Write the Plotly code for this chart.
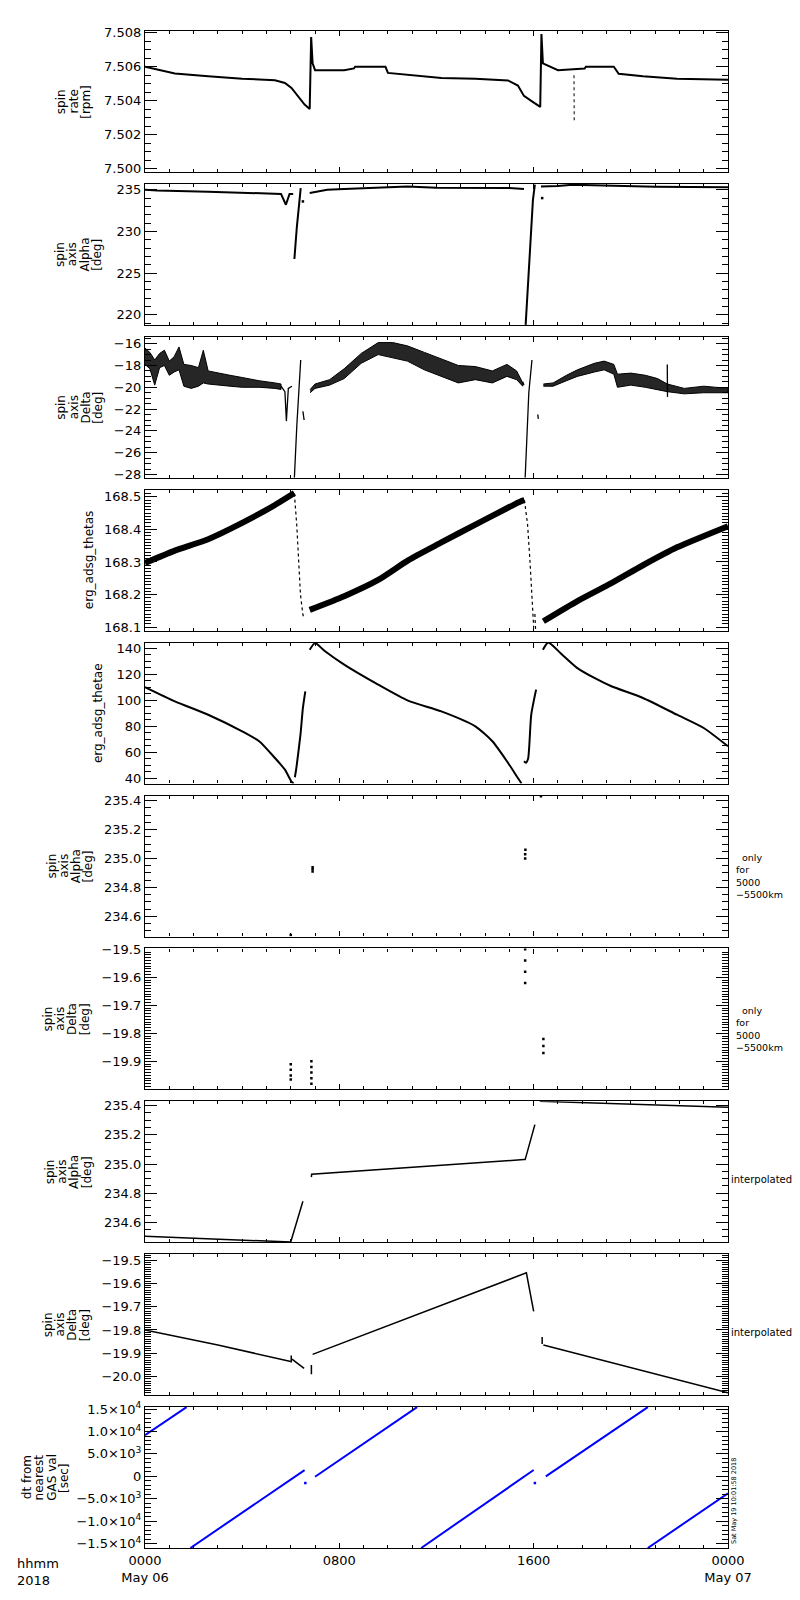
import plotly.graph_objects as go
from plotly.subplots import make_subplots

# time axis is hours since 2018-05-06 00:00 UT

# panel 1: spin rate [rpm]
rate_hr = [0, 0.3, 0.54, 1.23, 2.6, 4.0, 5.35, 5.76, 6.03, 6.3, 6.57, 6.78, 6.84, 6.9, 7.0, 8.2, 8.6, 8.65, 9.9, 10.0,
           10.83, 12.2, 13.6, 14.94, 15.35, 15.6, 15.9, 16.27, 16.32, 16.38, 17.0, 18.1, 18.15, 19.3, 19.5, 20.5, 21.9, 24.0]
rate_val = [7.5060, 7.5059, 7.5058, 7.5056, 7.50544, 7.5053, 7.50521, 7.50505, 7.50476, 7.50427, 7.50378, 7.50352,
            7.50775, 7.5062, 7.5058, 7.5058, 7.5059, 7.5060, 7.5060, 7.50564,
            7.50554, 7.50534, 7.5053, 7.5052, 7.5049, 7.50429, 7.5040, 7.50364, 7.50792, 7.5062, 7.5058, 7.5059,
            7.5060, 7.5060, 7.50559, 7.50544, 7.5053, 7.50524]
rate_drop_hr = [17.66, 17.67]
rate_drop_val = [7.5055, 7.5027]

# panel 2: spin axis alpha [deg]
alpha_hr = [0, 0.5, 2.6, 4.5, 5.35, 5.6, 5.8, 5.95, 6.1, None, 6.15, 6.25, 6.41, None, 6.78, 7.5, 8.2, 9.6, 10.8,
            12.0, 15.0, 15.6, None, 15.67, 15.85, 15.97, 16.05, None, 16.3, 17.0, 17.6, 19.3, 21.0, 24.0]
alpha_val = [235.0, 234.9, 234.76, 234.65, 234.56, 234.5, 233.2, 234.5, 234.5, None, 226.7, 230.5, 235.2, None,
             234.6, 235.0, 235.1, 235.3, 235.4, 235.25, 235.2, 235.1, None, 218.8, 228.0, 233.8, 235.6, None,
             235.4, 235.45, 235.6, 235.45, 235.35, 235.3]
alpha_dot_hr = [6.5, 16.35]
alpha_dot_val = [233.6, 234.0]

# panel 3: spin axis delta [deg], scattered band (top / bottom edges) plus fast excursions
delta_band_hr = [
    [0, 0.2, 0.4, 0.6, 0.8, 1.0, 1.2, 1.4, 1.6, 1.9, 2.2, 2.4, 2.6, 3.0, 3.5, 4.0, 4.7, 5.35, 5.6],
    [6.8, 7.0, 7.6, 8.2, 8.9, 9.6, 10.2, 10.8, 11.5, 12.2, 12.9, 13.6, 14.3, 14.9, 15.3, 15.55],
    [16.4, 16.8, 17.35, 17.8, 18.5, 18.9, 19.3, 19.45, 20.0, 20.6, 21.1, 21.5, 22.2, 23.0, 24.0],
]
delta_band_top = [
    [-16.4, -16.8, -17.5, -16.9, -16.6, -17.6, -17.2, -16.3, -17.9, -18.0, -18.2, -16.6, -18.5, -18.7, -18.9,
     -19.1, -19.4, -19.6, -19.7],
    [-20.2, -19.7, -19.3, -18.3, -16.9, -15.9, -15.9, -16.2, -16.8, -17.4, -18.0, -18.1, -18.5, -17.9, -18.5, -19.6],
    [-19.7, -19.6, -18.9, -18.4, -17.8, -17.6, -17.9, -18.8, -18.7, -18.9, -19.2, -19.7, -20.1, -19.9, -20.1],
]
delta_band_bot = [
    [-17.9, -18.3, -19.8, -18.2, -18.0, -18.9, -18.6, -18.4, -19.9, -20.1, -19.9, -19.6, -19.7, -19.8, -19.9,
     -20.0, -20.0, -20.1, -20.2],
    [-20.5, -20.1, -19.8, -19.2, -17.8, -17.0, -17.3, -17.6, -18.4, -19.0, -19.6, -19.3, -19.6, -19.0, -19.3, -19.9],
    [-19.9, -19.9, -19.4, -19.0, -18.6, -18.4, -18.8, -20.0, -19.8, -20.0, -20.2, -20.4, -20.6, -20.5, -20.5],
]
delta_jump_hr = [5.6, 5.76, 5.82, 5.9, 6.05, None, 6.15, 6.25, 6.41, None, 6.5, 6.55, None, 15.55, 15.6, None,
                 15.65, 15.8, 15.93, None, 16.17, 16.19, None, 21.5, 21.51]
delta_jump_val = [-19.9, -20.4, -23.1, -20.1, -19.9, None, -28.3, -23.5, -17.5, None, -22.2, -23.0, None,
                  -19.5, -19.8, None, -28.3, -20.5, -17.5, None, -22.5, -22.9, None, -17.9, -20.9]

# panel 4: erg_adsg_thetas
thetas_hr = [0, 1.23, 2.6, 4.0, 5.35, 6.0, 6.15, None, 6.78, 8.2, 9.6, 10.83, 12.2, 13.6, 14.9, 15.5, 15.62, None,
             16.4, 17.8, 19.2, 20.5, 21.9, 24.0]
thetas_val = [168.297, 168.335, 168.37, 168.42, 168.475, 168.505, 168.512, None, 168.153, 168.195, 168.245,
              168.305, 168.36, 168.415, 168.465, 168.487, 168.49, None, 168.118, 168.18, 168.235, 168.29,
              168.345, 168.41]
thetas_jump_hr = [6.15, 6.25, 6.4, 6.5, 6.56, None, 15.62, 15.75, 15.85, 15.95, 16.0, None, 16.05, 16.08]
thetas_jump_val = [168.51, 168.41, 168.2, 168.138, 168.125, None, 168.49, 168.415, 168.30, 168.148, 168.1, None,
                   168.14, 168.09]

# panel 5: erg_adsg_thetae
thetae_hr = [0, 1.23, 2.6, 4.0, 4.7, 5.35, 5.76, 6.04, 6.12, None, 6.17, 6.24, 6.4, 6.5, 6.6, None, 6.78, 7.0,
             7.4, 8.2, 9.6, 10.83, 12.2, 13.6, 14.3, 14.9, 15.35, 15.5, None, 15.6, 15.68, 15.77, 15.9, 16.1, None,
             16.38, 16.6, 17.1, 17.8, 18.5, 19.2, 20.5, 21.9, 23.0, 24.0]
thetae_val = [110.2, 99.2, 88.9, 76.1, 68.5, 55.6, 46.6, 37.2, 36.0, None, 40.8, 49.2, 73.5, 94.1, 106.9, None,
              138.9, 144.0, 137.9, 127.4, 112.0, 99.7, 91.5, 80.0, 68.5, 53.1, 40.2, 36.0, None, 53.1, 52.0,
              55.0, 88.9, 108.2, None, 138.9, 144.5, 136.4, 124.8, 117.2, 110.8, 101.8, 88.9, 78.7, 64.6]

# panel 6: alpha, only for 5000-5500 km
alt_alpha_hr = [6.0, 6.9, 6.9, 6.9, 15.65, 15.65, 15.66, 16.3]
alt_alpha_val = [234.47, 234.91, 234.925, 234.94, 235.0, 235.03, 235.06, 235.43]

# panel 7: delta, only for 5000-5500 km
alt_delta_hr = [6.0, 6.0, 6.0, 6.0, 6.85, 6.85, 6.85, 6.85, 6.85, 15.65, 15.65, 15.65, 15.65, 16.4, 16.4, 16.4]
alt_delta_val = [-19.91, -19.93, -19.95, -19.965, -19.90, -19.92, -19.94, -19.96, -19.98, -19.50, -19.54,
                 -19.58, -19.62, -19.82, -19.845, -19.87]

# panel 8: alpha, interpolated
int_alpha_hr = [0, 1.2, 2.6, 4.0, 5.2, 6.0, 6.5, None, 6.85, 6.86, 15.6, 15.65, 16.05, None, 16.25, 18.0, 20.0,
                22.0, 24.0]
int_alpha_val = [234.504, 234.497, 234.487, 234.48, 234.47, 234.465, 234.744, None, 234.91, 234.93, 235.03,
                 235.03, 235.27, None, 235.43, 235.42, 235.41, 235.40, 235.39]

# panel 9: delta, interpolated
int_delta_hr = [0, 3.0, 6.0, None, 6.02, 6.02, None, 6.05, 6.55, None, 6.85, 6.85, None, 6.9, 15.7, 16.0, None,
                16.35, 16.35, None, 16.4, 24.0]
int_delta_val = [-19.80, -19.865, -19.935, None, -19.91, -19.94, None, -19.925, -19.965, None, -19.95, -19.99,
                 None, -19.905, -19.555, -19.72, None, -19.83, -19.86, None, -19.865, -20.07]

# panel 10: dt from nearest GAS value [sec]
dt_hr = [0, 1.71, None, 1.87, 6.57, None, 7.0, 11.2, None, 11.37, 16.0, None, 16.5, 20.7, None, 20.7, 24.0]
dt_val = [9200, 15450, None, -16000, 1400, None, -100, 15450, None, -16000, 1400, None, 0, 15450, None,
          -16000, -3790]
dt_dot_hr = [6.6, 16.05]
dt_dot_val = [-1500, -1500]

# axis ticks
x_tickvals = [0, 8, 16, 24]
x_ticktext = ["0000<br>May 06", "0800", "1600", "0000<br>May 07"]

y_ranges = [[7.49982, 7.5081], [218.8, 235.7], [-28.3, -15.37], [168.089, 168.522], [35.9, 144.4],
            [234.46, 235.436], [-20.0, -19.497], [234.463, 235.43], [-20.08, -19.475], [-16000, 15450]]
y_tickvals = [
    [7.500, 7.502, 7.504, 7.506, 7.508],
    [220, 225, 230, 235],
    [-28, -26, -24, -22, -20, -18, -16],
    [168.1, 168.2, 168.3, 168.4, 168.5],
    [40, 60, 80, 100, 120, 140],
    [234.6, 234.8, 235.0, 235.2, 235.4],
    [-19.9, -19.8, -19.7, -19.6, -19.5],
    [234.6, 234.8, 235.0, 235.2, 235.4],
    [-20.0, -19.9, -19.8, -19.7, -19.6, -19.5],
    [-15000, -10000, -5000, 0, 5000, 10000, 15000],
]
y_ticktext = [
    ["7.500", "7.502", "7.504", "7.506", "7.508"],
    ["220", "225", "230", "235"],
    ["−28", "−26", "−24", "−22", "−20", "−18", "−16"],
    ["168.1", "168.2", "168.3", "168.4", "168.5"],
    ["40", "60", "80", "100", "120", "140"],
    ["234.6", "234.8", "235.0", "235.2", "235.4"],
    ["−19.9", "−19.8", "−19.7", "−19.6", "−19.5"],
    ["234.6", "234.8", "235.0", "235.2", "235.4"],
    ["−20.0", "−19.9", "−19.8", "−19.7", "−19.6", "−19.5"],
    ["−1.5×10<sup>4</sup>", "−1.0×10<sup>4</sup>", "−5.0×10<sup>3</sup>", "0",
     "5.0×10<sup>3</sup>", "1.0×10<sup>4</sup>", "1.5×10<sup>4</sup>"],
]
y_minor = [0.0005, 1, 0.5, 0.01, 5, 0.05, 0.01, 0.05, 0.01, 1000]

y_titles = [
    ["spin", "rate", "[rpm]"],
    ["spin", "axis", "Alpha", "[deg]"],
    ["spin", "axis", "Delta", "[deg]"],
    ["erg_adsg_thetas"],
    ["erg_adsg_thetae"],
    ["spin", "axis", "Alpha", "[deg]"],
    ["spin", "axis", "Delta", "[deg]"],
    ["spin", "axis", "Alpha", "[deg]"],
    ["spin", "axis", "Delta", "[deg]"],
    ["dt from", "nearest", "GAS val", "[sec]"],
]
y_title_cx = [65, 71, 72, 81, 90, 62, 58, 60, 58, 37]

note_alt = "\u00a0\u00a0only<br>for<br>5000<br>−5500km"
note_interp = "interpolated"
stamp = "Sat May 19 10:01:58 2018"

FONT = "DejaVu Sans"
W, H = 800, 1600
ML, MR, MT, MB = 137, 80, 23, 60
PW, PH = W - ML - MR, H - MT - MB
TOP0, PITCH, PANEL_H = 23, 152.9, 141


def px_x(px):
    return (px - ML) / PW


def px_y(py):
    return (H - MB - py) / PH


def clamp(v):
    return min(1.0, max(0.0, v))


fig = make_subplots(rows=10, cols=1)

black = "black"
fig.add_trace(go.Scatter(x=rate_hr, y=rate_val, mode="lines", line=dict(color=black, width=2)), row=1, col=1)
fig.add_trace(go.Scatter(x=rate_drop_hr, y=rate_drop_val, mode="lines",
                         line=dict(color=black, width=1, dash="dot")), row=1, col=1)

fig.add_trace(go.Scatter(x=alpha_hr, y=alpha_val, mode="lines", line=dict(color=black, width=2)), row=2, col=1)
fig.add_trace(go.Scatter(x=alpha_dot_hr, y=alpha_dot_val, mode="markers",
                         marker=dict(color=black, size=2.5, symbol="square")), row=2, col=1)

for hr, top, bot in zip(delta_band_hr, delta_band_top, delta_band_bot):
    fig.add_trace(go.Scatter(x=hr + hr[::-1], y=top + bot[::-1], mode="lines", fill="toself",
                             fillcolor="rgba(0,0,0,0.85)", line=dict(color=black, width=1)), row=3, col=1)
fig.add_trace(go.Scatter(x=delta_jump_hr, y=delta_jump_val, mode="lines", line=dict(color=black, width=1.3)),
              row=3, col=1)

fig.add_trace(go.Scatter(x=thetas_hr, y=thetas_val, mode="lines",
                         line=dict(color=black, width=6, shape="spline", smoothing=0.6)), row=4, col=1)
fig.add_trace(go.Scatter(x=thetas_jump_hr, y=thetas_jump_val, mode="lines",
                         line=dict(color=black, width=1.2, dash="dot")), row=4, col=1)

fig.add_trace(go.Scatter(x=thetae_hr, y=thetae_val, mode="lines",
                         line=dict(color=black, width=2, shape="spline", smoothing=0.6)), row=5, col=1)

fig.add_trace(go.Scatter(x=alt_alpha_hr, y=alt_alpha_val, mode="markers",
                         marker=dict(color=black, size=2.5, symbol="square")), row=6, col=1)
fig.add_trace(go.Scatter(x=alt_delta_hr, y=alt_delta_val, mode="markers",
                         marker=dict(color=black, size=2.5, symbol="square")), row=7, col=1)

fig.add_trace(go.Scatter(x=int_alpha_hr, y=int_alpha_val, mode="lines", line=dict(color=black, width=1.5)),
              row=8, col=1)
fig.add_trace(go.Scatter(x=int_delta_hr, y=int_delta_val, mode="lines", line=dict(color=black, width=1.5)),
              row=9, col=1)

fig.add_trace(go.Scatter(x=dt_hr, y=dt_val, mode="lines", line=dict(color="#0000ff", width=2)), row=10, col=1)
fig.add_trace(go.Scatter(x=dt_dot_hr, y=dt_dot_val, mode="markers",
                         marker=dict(color="#0000ff", size=2.5, symbol="square")), row=10, col=1)

annotations = []
for i in range(10):
    top_px = TOP0 + i * PITCH
    bot_px = top_px + PANEL_H
    n = str(i + 1) if i else ""
    fig.layout["yaxis" + n].update(
        domain=[clamp(px_y(bot_px)), clamp(px_y(top_px))], range=y_ranges[i],
        tickvals=y_tickvals[i], ticktext=y_ticktext[i],
        ticks="inside", ticklen=12, tickwidth=1, tickcolor=black,
        minor=dict(dtick=y_minor[i], tick0=0, ticks="inside", ticklen=6, tickcolor=black, showgrid=False),
        showline=True, linecolor=black, linewidth=1.3, mirror="ticks",
        showgrid=False, zeroline=False, tickfont=dict(family=FONT, size=13, color=black),
    )
    fig.layout["xaxis" + n].update(
        range=[0, 24], tickvals=x_tickvals, ticktext=x_ticktext, showticklabels=(i == 9),
        ticks="inside", ticklen=5, tickcolor=black,
        minor=dict(dtick=1, tick0=0, ticks="inside", ticklen=3, tickcolor=black, showgrid=False),
        showline=True, linecolor=black, linewidth=1.3, mirror="ticks",
        showgrid=False, zeroline=False, tickfont=dict(family=FONT, size=13, color=black),
    )

    # stacked, rotated y-axis title lines
    lines = y_titles[i]
    mid = top_px + PANEL_H / 2
    for k, line in enumerate(lines):
        cx = y_title_cx[i] + (k - (len(lines) - 1) / 2) * 12.3
        annotations.append(dict(text=line, x=px_x(cx), y=px_y(mid), xref="paper", yref="paper",
                                textangle=-90, xanchor="center", yanchor="middle", showarrow=False,
                                font=dict(family=FONT, size=12, color=black)))

    if i in (5, 6):
        annotations.append(dict(text=note_alt, x=px_x(726), y=px_y(mid + 10), xref="paper", yref="paper",
                                xanchor="left", yanchor="middle", align="left", showarrow=False,
                                font=dict(family=FONT, size=9.5, color=black)))
    if i in (7, 8):
        annotations.append(dict(text=note_interp, x=px_x(721), y=px_y(mid + 8), xref="paper", yref="paper",
                                xanchor="left", yanchor="middle", showarrow=False,
                                font=dict(family=FONT, size=10, color=black)))

annotations.append(dict(text="hhmm<br>2018", x=px_x(7), y=px_y(1546), xref="paper", yref="paper",
                        xanchor="left", yanchor="top", align="left", showarrow=False,
                        font=dict(family=FONT, size=13, color=black)))
annotations.append(dict(text=stamp, x=px_x(726), y=px_y(1538), xref="paper", yref="paper",
                        textangle=-90, xanchor="center", yanchor="bottom", showarrow=False,
                        font=dict(family=FONT, size=6.5, color=black)))

fig.update_layout(
    width=W, height=H, showlegend=False, annotations=annotations,
    margin=dict(l=ML, r=MR, t=MT, b=MB, pad=0),
    paper_bgcolor="white", plot_bgcolor="white",
    font=dict(family=FONT, color=black),
    hovermode=False,
)

fig.write_html("out.html")
